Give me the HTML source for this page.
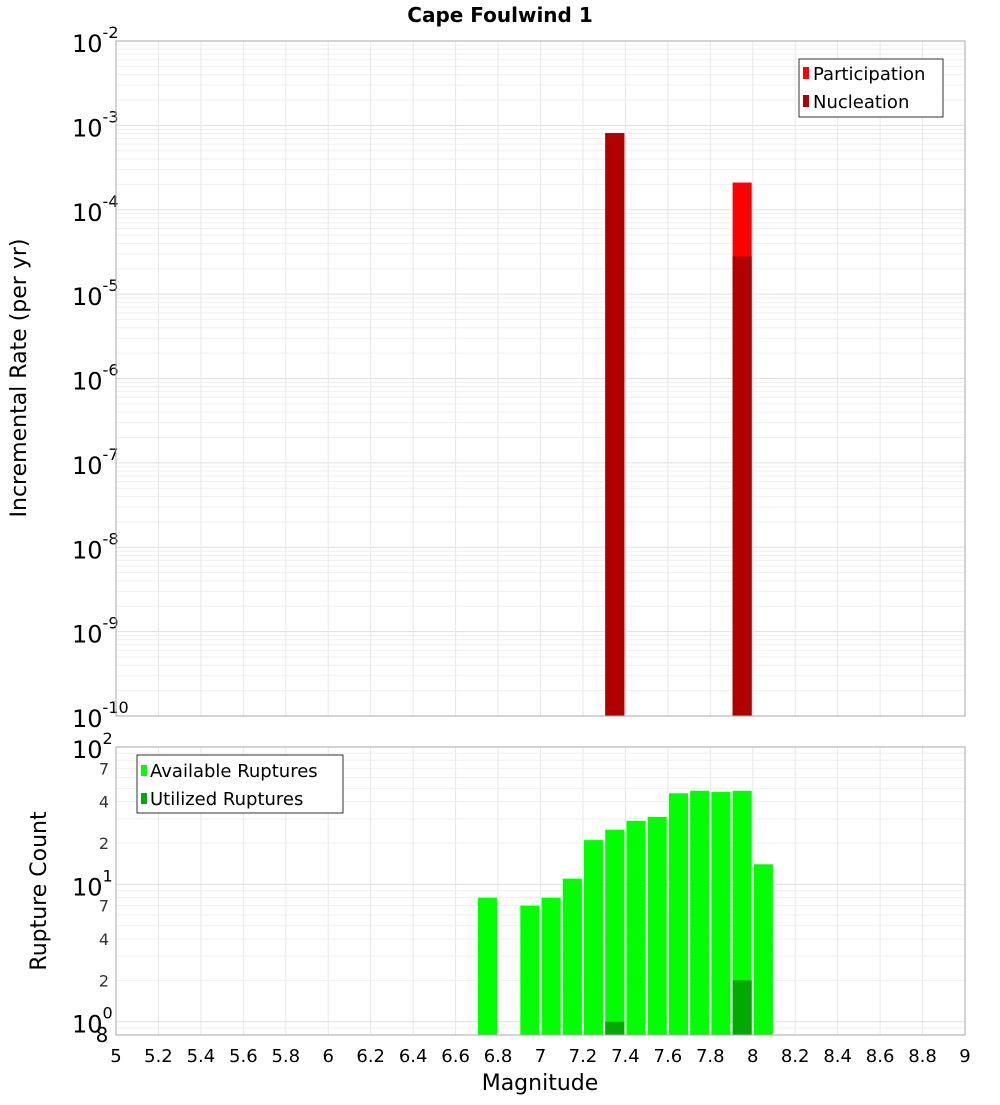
<!DOCTYPE html>
<html><head><meta charset="utf-8"><style>
body{margin:0;background:#fff;}
text{font-family:"DejaVu Sans","Liberation Sans",sans-serif;}
</style></head><body>
<svg id="chart" width="1000" height="1100" xmlns="http://www.w3.org/2000/svg">
<text x="500" y="22" text-anchor="middle" font-size="20" font-weight="bold">Cape Foulwind 1</text>
<g id="topg"></g><g id="botg"></g>
<text transform="translate(26,378) rotate(-90)" text-anchor="middle" font-size="22">Incremental Rate (per yr)</text>
<text transform="translate(46,891) rotate(-90)" text-anchor="middle" font-size="22">Rupture Count</text>
<text x="540" y="1090" text-anchor="middle" font-size="22">Magnitude</text>
</svg>
<script>
const mags=[6.75,6.95,7.05,7.15,7.25,7.35,7.45,7.55,7.65,7.75,7.85,7.95,8.05];
const available=[8,7,8,11,21,25,29,31,46,48,47,48,14];
const utilizedMags=[7.35,7.95];
const utilized=[1.0,2.0];
const rateMags=[7.35,7.95];
const participation=[8.1e-4,2.1e-4];
const nucleation=[8.1e-4,2.8e-5];
const xTicks=[5,5.2,5.4,5.6,5.8,6,6.2,6.4,6.6,6.8,7,7.2,7.4,7.6,7.8,8,8.2,8.4,8.6,8.8,9];

const NS="http://www.w3.org/2000/svg";
const L=116,R=965;
const X=m=>L+(m-5)/4*(R-L);
const T0=41,T1=716;
const YT=v=>T0+(-2-Math.log10(v))/8*(T1-T0);
const B0=747,B1=1035,bmin=Math.log10(0.8);
const YB=v=>B0+(2-Math.log10(v))/(2-bmin)*(B1-B0);
function el(p,t,a,txt){const e=document.createElementNS(NS,t);for(const k in a)e.setAttribute(k,a[k]);if(txt!==undefined)e.textContent=txt;p.appendChild(e);return e;}
const topG=document.getElementById('topg'),botG=document.getElementById('botg');
for(let d=-10;d<-2;d++)for(let k=1;k<10;k++){const y=YT(k*Math.pow(10,d));
 const g=el(topG,'line',{x1:L,x2:R,y1:y,y2:y,stroke:k==1?'#e0e0e0':'#efefef','stroke-width':1});
 
 }
for(const t of xTicks){for(const [p,a,b] of [[topG,T0,T1],[botG,B0,B1]]){const g=el(p,'line',{x1:X(t),x2:X(t),y1:a,y2:b,stroke:'#e8e8e8'});
 
 }}
for(let d=-10;d<=-2;d++){const y=YT(Math.pow(10,d));
 const t=el(topG,'text',{x:72,y:y+11,'font-size':24});
 
 
 t.textContent='10';el(t,'tspan',{dy:-14,'font-size':16},String(d));}
rateMags.forEach((m,i)=>{
 let b=el(topG,'rect',{x:X(m-0.045),width:X(0.09)-X(0),y:YT(participation[i]),height:T1-YT(participation[i]),fill:'#ff0000'});
 
 
 b=el(topG,'rect',{x:X(m-0.045),width:X(0.09)-X(0),y:YT(nucleation[i]),height:T1-YT(nucleation[i]),fill:'#b00000'});
 
 });
let f=el(topG,'rect',{x:L,y:T0,width:R-L,height:T1-T0,fill:'none',stroke:'#aaa'});


let lg=el(topG,'g',{});


el(lg,'rect',{x:799,y:59,width:144,height:58,fill:'#fff',stroke:'#333'});
el(lg,'rect',{x:803,y:67,width:6,height:12,fill:'#ff0000'});
el(lg,'text',{x:813,y:80,'font-size':18},'Participation');
el(lg,'rect',{x:803,y:95,width:6,height:12,fill:'#b00000'});
el(lg,'text',{x:813,y:108,'font-size':18},'Nucleation');
for(let d=-1;d<2;d++)for(let k=1;k<10;k++){const v=k*Math.pow(10,d);if(v<0.8)continue;const y=YB(v);
 const g=el(botG,'line',{x1:L,x2:R,y1:y,y2:y,stroke:k==1?'#e0e0e0':'#efefef'});
 
 }
for(let d=0;d<=2;d++){const y=YB(Math.pow(10,d));
 const t=el(botG,'text',{x:72,y:y+11,'font-size':24});
 
 
 t.textContent='10';el(t,'tspan',{dy:-14,'font-size':16},String(d));}
for(const d of [0,1])for(const k of [2,4,7]){const y=YB(k*Math.pow(10,d));
 const t=el(botG,'text',{x:104,y:y+6,'font-size':16,'text-anchor':'middle',fill:'#333'},String(k));
 
 }
let e8=el(botG,'text',{x:102,y:1042,'font-size':20,'text-anchor':'middle'},'8');


mags.forEach((m,i)=>{const b=el(botG,'rect',{x:X(m-0.045),width:X(0.09)-X(0),y:YB(available[i]),height:B1-YB(available[i]),fill:'#00ff00'});
 
 });
utilizedMags.forEach((m,i)=>{const b=el(botG,'rect',{x:X(m-0.045),width:X(0.09)-X(0),y:YB(utilized[i]),height:B1-YB(utilized[i]),fill:'#00aa00'});
 
 });
f=el(botG,'rect',{x:L,y:B0,width:R-L,height:B1-B0,fill:'none',stroke:'#aaa'});


for(const t of xTicks){const s=el(botG,'text',{x:X(t),y:1062,'font-size':18,'text-anchor':'middle'},String(t));
 
 }
lg=el(botG,'g',{});


el(lg,'rect',{x:137,y:755,width:206,height:58,fill:'#fff',stroke:'#333'});
el(lg,'rect',{x:141,y:765,width:6,height:11,fill:'#00ff00'});
el(lg,'text',{x:150,y:777,'font-size':18},'Available Ruptures');
el(lg,'rect',{x:141,y:793,width:6,height:11,fill:'#00aa00'});
el(lg,'text',{x:150,y:805,'font-size':18},'Utilized Ruptures');
</script>
</body></html>
